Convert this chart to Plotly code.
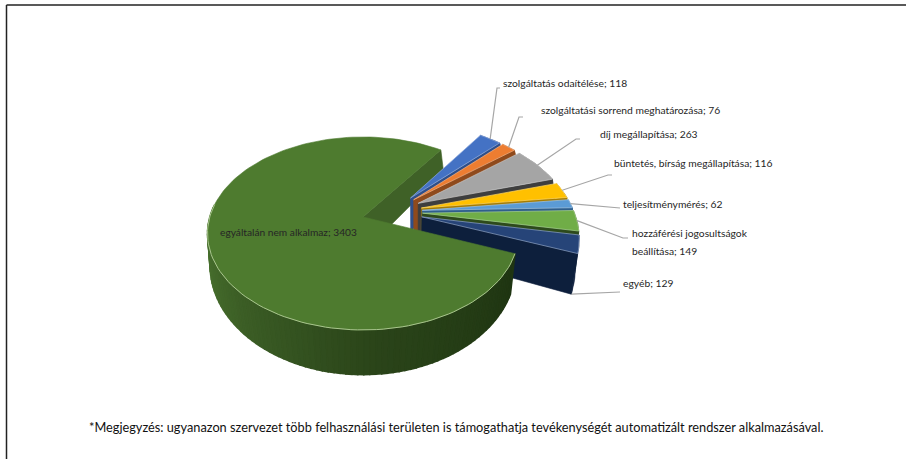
import math
import plotly.graph_objects as go

# ---- data
categories = ["szolgáltatás odaítélése", "szolgáltatási sorrend meghatározása", "díj megállapítása",
              "büntetés, bírság megállapítása", "teljesítménymérés",
              "hozzáférési jogosultságok<br>beállítása", "egyéb", "egyáltalán nem alkalmaz"]
values = [118, 76, 263, 116, 62, 149, 129, 3403]
note = "*Megjegyzés: ugyanazon szervezet több felhasználási területen is támogathatja tevékenységét automatizált rendszer alkalmazásával."

# ---- styling
tops = ["#4472C4", "#ED7D31", "#A5A5A5", "#FFC000", "#5B9BD5", "#70AD47", "#264478", "#4E7B2F"]
cuts = ["#2F4F8A", "#8F4A1C", "#3E3E3E", "#A67C00", "#2F5F8C", "#2D4A1C", "#0D1F3C", "#3F6127"]
rims = ["#8FAADC", "#F4B183", "#C9C9C9", "#FFD966", "#9DC3E6", "#A9D18E", "#8FA3C8", "#A9C58E"]

START = 54.6
PULL = 0.20
O = (0.1916, 0.0574)          # pie centre relative to the big slice's tip, in plane units
SEG = 2.0


def top(u, w):
    d = 1 + 0.171 * w
    return 363 + 153.2 * u / d, 217 - 93.7 * w / d


def bottom(u, w):
    d = 1 + 0.113 * w
    return 363 + 152.0 * u / d, 253 - 108.0 * w / d


def pt(c, a):
    r = math.radians(a)
    return c[0] + math.cos(r), c[1] + math.sin(r)


def arc(a0, a1):
    n = max(2, int(abs(a1 - a0) / SEG) + 1)
    return [a0 + (a1 - a0) * i / (n - 1) for i in range(n)]


def poly(fig, pts, fill, line=None, width=0.6):
    fig.add_trace(go.Scatter(
        x=[p[0] for p in pts] + [pts[0][0]], y=[p[1] for p in pts] + [pts[0][1]],
        mode="lines", fill="toself", fillcolor=fill,
        line=dict(color=line or fill, width=width), hoverinfo="skip", showlegend=False))


def edge(fig, pts, color, width=1):
    fig.add_trace(go.Scatter(x=[p[0] for p in pts], y=[p[1] for p in pts], mode="lines",
                             line=dict(color=color, width=width), hoverinfo="skip", showlegend=False))


def mix(c1, c2, t):
    a = [int(c1[i:i + 2], 16) for i in (1, 3, 5)]
    b = [int(c2[i:i + 2], 16) for i in (1, 3, 5)]
    return "rgb(%d,%d,%d)" % tuple(round(x + (y - x) * t) for x, y in zip(a, b))


total = sum(values)
spans = [v / total * 360 for v in values]
fig = go.Figure()

# slices run clockwise from START; the big one is last
a = START
wedges = []
for s in spans:
    b = a - s
    mid = math.radians((a + b) / 2)
    c = (O[0] + PULL * math.cos(mid), O[1] + PULL * math.sin(mid))
    wedges.append((a, b, c))
    a = b

# big slice runs counter-clockwise from START round to its other edge
_, _, c0 = wedges[7]
main_from = START
main_to = wedges[7][0] + 360

# big slice: inner face at the back
p_a = pt(c0, main_from)
poly(fig, [top(*c0), top(*p_a), bottom(*p_a), bottom(*c0)], "#3F6127")

# the small slices, back to front
for i in range(7):
    a, b, c = wedges[i]
    rim = [pt(c, t) for t in arc(a, b)]
    # outer wall
    poly(fig, [top(*p) for p in rim] + [bottom(*p) for p in reversed(rim)], cuts[i])
    # clockwise cut face
    e = rim[-1]
    poly(fig, [top(*c), top(*e), bottom(*e), bottom(*c)], cuts[i])
    poly(fig, [top(*c)] + [top(*p) for p in rim], tops[i], line=rims[i], width=0.7)

# big slice: outer wall with its shading, left to right along the front
wall_angles = arc(172, main_to)
for j in range(len(wall_angles) - 1):
    t = j / (len(wall_angles) - 2)
    if t < 0.62:
        col = mix("#4F7A33", "#2A4419", t / 0.62)
    else:
        col = mix("#2A4419", "#1F3512", (t - 0.62) / 0.38)
    p, q = pt(c0, wall_angles[j]), pt(c0, wall_angles[j + 1])
    poly(fig, [top(*p), top(*q), bottom(*q), bottom(*p)], col, width=1.5)

# big slice: top face
rim0 = [pt(c0, t) for t in arc(main_from, main_to)]
poly(fig, [top(*c0)] + [top(*p) for p in rim0], tops[7])
edge(fig, [top(*pt(c0, t)) for t in arc(172, main_to)], rims[7], 1)

# ---- leader lines: bends and ends placed by hand, starts on each slice's rim
bends = [[(497, 88), (500, 88)], [(519, 117), (523, 117)], [(576, 139), (580, 139)],
         [(608, 175), (612, 175)], [(617, 208), (620, 208)], [(623, 238), (628, 238)],
         [(613, 292), (620, 292)]]
for i in range(7):
    a, b, c = wedges[i]
    m = (a + b) / 2
    p = pt(c, m)
    start = bottom(*pt(c, b)) if i == 6 else top(*p)
    edge(fig, [start] + bends[i], "#A6A6A6", 1.2)

# ---- text
label_pos = [(500.5, 83, 10.3), (538.5, 110, 10.3), (597.5, 134, 10.3), (611.5, 163, 10.3), (620.5, 204, 10.3),
             (629.5, 233, 10.3), (620.5, 283, 10.3), (217.5, 232, 10.2)]
LINE_GAP = 18
for name, v, (x, y, sz) in zip(categories, values, label_pos):
    for k, line in enumerate(f"{name}; {v}".split("<br>")):
        fig.add_annotation(x=x, y=y + k * LINE_GAP, text=line, showarrow=False, xanchor="left", yanchor="middle",
                           align="left", font=dict(family="Lato", size=sz, color="#262626"))
fig.add_annotation(x=86.5, y=427, text=note, showarrow=False, xanchor="left", yanchor="middle",
                   font=dict(family="Lato", size=12.75, color="#111111"))

# ---- frame
frame = [(6.5, 459, 6.5, 5), (6.5, 5, 906, 5)]
for x0, y0, x1, y1 in frame:
    fig.add_shape(type="line", x0=x0, y0=y0, x1=x1, y1=y1, line=dict(color="#222222", width=1.5))

fig.update_layout(width=906, height=459, margin=dict(l=0, r=0, t=0, b=0),
                  paper_bgcolor="white", plot_bgcolor="white", showlegend=False,
                  xaxis=dict(range=[0, 906], visible=False, fixedrange=True),
                  yaxis=dict(range=[459, 0], visible=False, fixedrange=True))
fig.write_html("out.html", config=dict(displayModeBar=False), post_script="document.body.style.margin='0';")
